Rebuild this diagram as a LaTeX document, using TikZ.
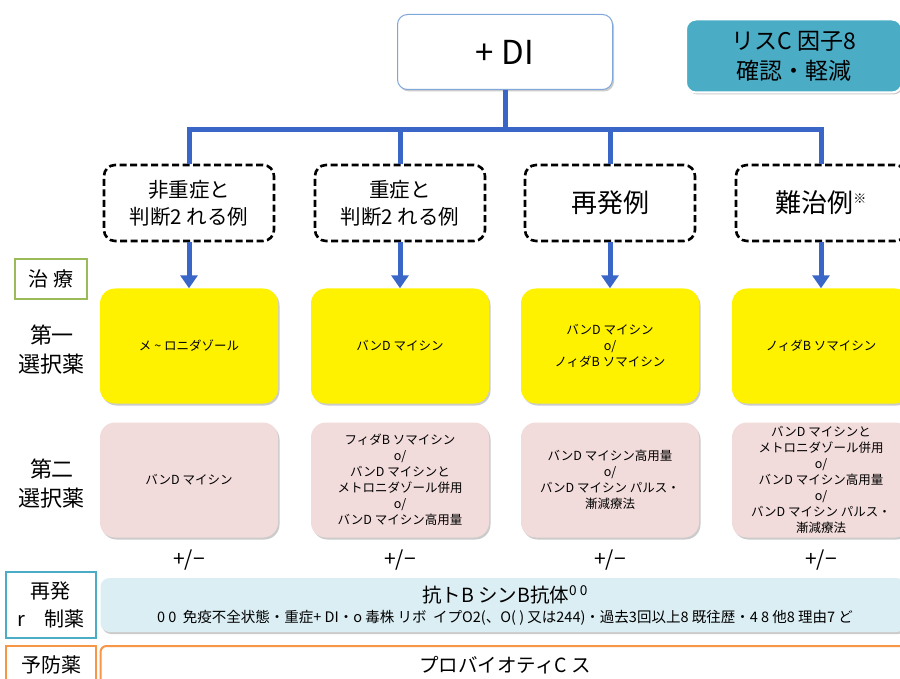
\documentclass[tikz,border=0pt]{standalone}
\usepackage{fontspec}
\setmainfont{Noto Sans CJK JP}
\usetikzlibrary{arrows.meta,shadows}
\definecolor{lineblue}{RGB}{58,102,200}
\definecolor{riskteal}{RGB}{75,172,198}
\definecolor{secpink}{RGB}{242,220,219}
\definecolor{bandblue}{RGB}{219,238,244}
\definecolor{tagGreen}{RGB}{155,187,89}
\definecolor{tagOrange}{RGB}{247,150,70}
\definecolor{topedge}{RGB}{127,167,217}
\begin{document}
\begin{tikzpicture}[x=1pt, y=-1pt,
  shade/.style={drop shadow={shadow xshift=1.5pt,shadow yshift=-2pt,fill=black!45,opacity=.45}},
  trunk/.style={line width=5pt, draw=lineblue},
  arr/.style={trunk, -{Triangle[width=17pt,length=13pt]}},
  casebox/.style={draw, line width=2.6pt, dash pattern=on 7pt off 3.5pt, rounded corners=11pt, fill=white,
    minimum width=170pt, minimum height=76pt, align=center, font=\fontsize{20.5}{27}\selectfont},
  firstbox/.style={shade, fill=yellow, rounded corners=15pt, minimum width=178pt, minimum height=115pt,
    align=center, font=\fontsize{12.5}{16}\selectfont},
  secondbox/.style={shade, fill=secpink, rounded corners=15pt, minimum width=178pt, minimum height=115pt,
    align=center, font=\fontsize{12.5}{16}\selectfont},
  rowtag/.style={align=center, font=\fontsize{22}{29}\selectfont},
  pm/.style={font=\fontsize{21}{25}\selectfont}]
\useasboundingbox (0,0) rectangle (900,679);

% top
\node[draw=topedge, line width=1pt, rounded corners=10pt, fill=white, shade,
  minimum width=215pt, minimum height=75pt, font=\fontsize{33}{36}\selectfont] (cdi) at (505,52) {+ DI};
\node[draw=white, line width=2pt, fill=riskteal, rounded corners=10pt, shade, align=center,
  minimum width=216pt, minimum height=73pt, font=\fontsize{23}{30}\selectfont] (risk) at (794,56) {リスC 因子8\\確認・軽減};

% cases
\node[casebox] (c1) at (189,203) {非重症と\\判断2 れる例};
\node[casebox] (c2) at (400,203) {重症と\\判断2 れる例};
\node[casebox, font=\fontsize{26}{30}\selectfont] (c3) at (610,203) {再発例};
\node[casebox, font=\fontsize{26}{30}\selectfont] (c4) at (821,203) {難治例\textsuperscript{\fontsize{13}{13}\selectfont ※}};

\coordinate (hub) at (505,130);
\draw[trunk] (cdi.south) -- (hub);
\draw[trunk, line cap=rect] (hub -| c1) -- (hub -| c4);
\draw[trunk] (hub -| c1) -- (c1.north);
\draw[trunk] (hub -| c2) -- (c2.north);
\draw[trunk] (hub -| c3) -- (c3.north);
\draw[trunk] (hub -| c4) -- (c4.north);

% row tags
\node[draw=tagGreen, line width=2pt, fill=white, minimum width=72pt, minimum height=39pt,
  font=\fontsize{20}{24}\selectfont] (tx) at (51,279) {治 療};
\node[rowtag] (t1) at (52,350) {第一\\選択薬};
\node[rowtag] (t2) at (52,484) {第二\\選択薬};

% first choice
\node[firstbox] (f1) at (189,346) {メ \string~ ロニダゾール};
\node[firstbox] (f2) at (400,346) {バンD マイシン};
\node[firstbox] (f3) at (610,346) {バンD マイシン\\o/\\ノィダB ソマイシン};
\node[firstbox] (f4) at (821,346) {ノィダB ソマイシン};

\draw[arr] (c1.south) -- (f1.north);
\draw[arr] (c2.south) -- (f2.north);
\draw[arr] (c3.south) -- (f3.north);
\draw[arr] (c4.south) -- (f4.north);

% second choice
\node[secondbox] (s1) at (189,480) {バンD マイシン};
\node[secondbox] (s2) at (400,480) {フィダB ソマイシン\\o/\\バンD マイシンと\\メトロニダゾール併用\\o/\\バンD マイシン高用量};
\node[secondbox] (s3) at (610,480) {バンD マイシン高用量\\o/\\バンD マイシン パルス・\\漸減療法};
\node[secondbox] (s4) at (821,480) {バンD マイシンと\\メトロニダゾール併用\\o/\\バンD マイシン高用量\\o/\\バンD マイシン パルス・\\漸減療法};

\node[pm] (p1) at (189,560) {+/−};
\node[pm] (p2) at (400,560) {+/−};
\node[pm] (p3) at (610,560) {+/−};
\node[pm] (p4) at (821,560) {+/−};

% bottom bands
\node[draw=riskteal, line width=2pt, fill=white, minimum width=90pt, minimum height=66pt, align=center,
  font=\fontsize{20}{28}\selectfont] (t3) at (51,605) {再発\\r\quad 制薬};
\node[shade, fill=bandblue, rounded corners=9pt, minimum width=805pt, minimum height=54pt] (band) at (503,605) {};
\node[font=\fontsize{19.5}{22}\selectfont] (mab) at (505,595) {抗トB シンB抗体\textsuperscript{0 0}};
\node[font=\fontsize{14.5}{16}\selectfont] (mabnote) at (505,618)
  {0 0\ \ 免疫不全状態・重症+ DI・o 毒株 リボ\ \ イプO2(、O( ) 又は244)・過去3回以上8 既往歴・4 8 他8 理由7 ど};

\node[draw=tagOrange, line width=2pt, fill=white, minimum width=90pt, minimum height=60pt, anchor=north] (t4) at (51,645) {};
\node[font=\fontsize{20}{24}\selectfont] (t4text) at (51,665) {予防薬};
\node[draw=tagOrange, line width=2pt, fill=white, rounded corners=6pt, minimum width=805pt, minimum height=60pt,
  anchor=north] (pro) at (503,645) {};
\node[font=\fontsize{19.5}{22}\selectfont] (protext) at (505,665) {プロバイオティC ス};
\end{tikzpicture}
\end{document}
